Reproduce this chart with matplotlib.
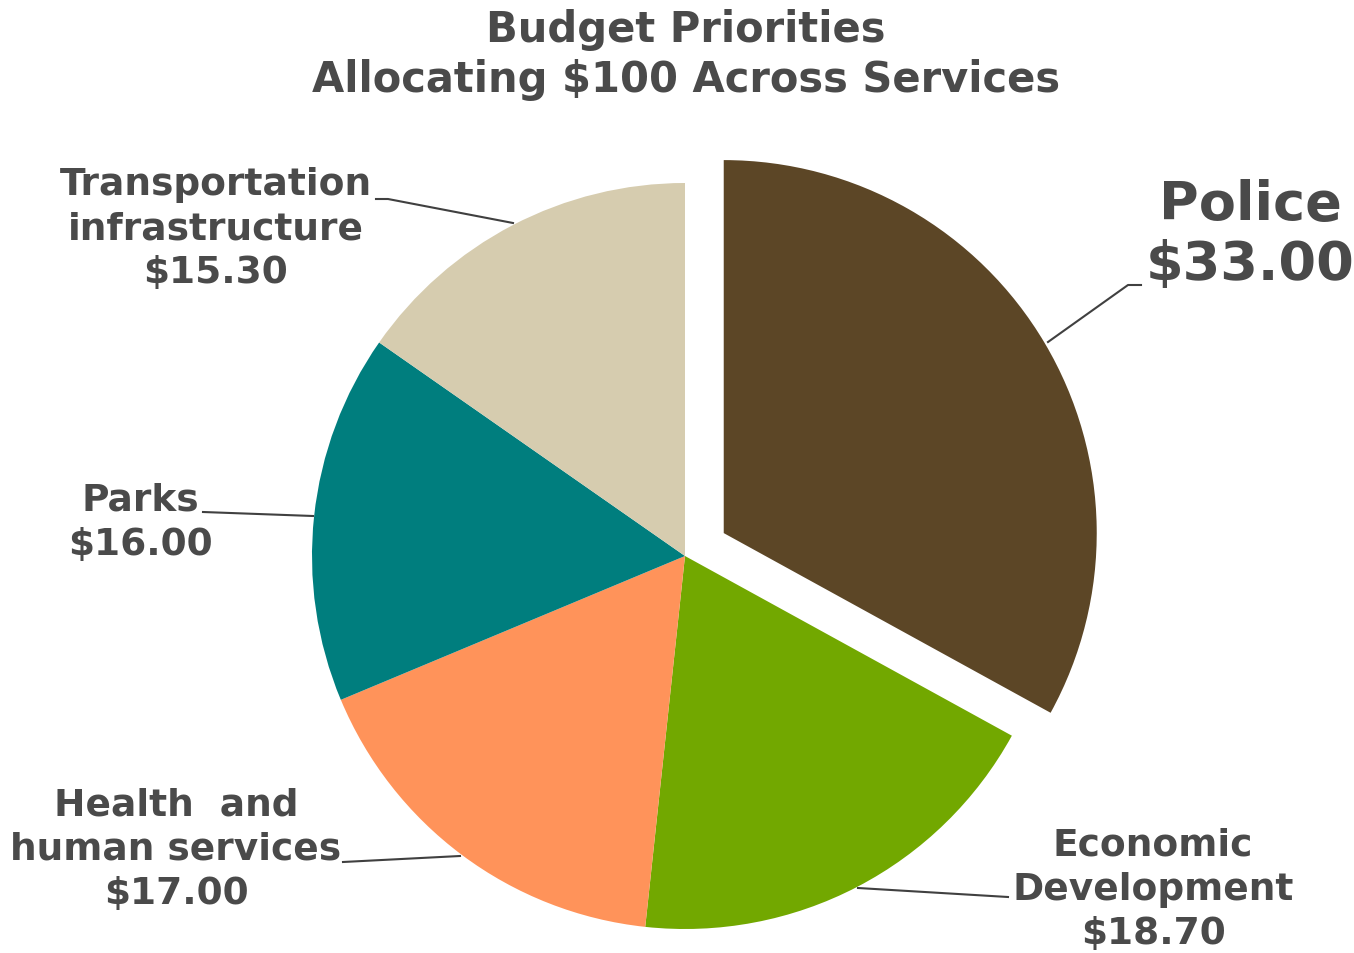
import matplotlib.pyplot as plt

# Dados
categorias = ['Police', 'Economic\nDevelopment', 'Health  and\nhuman services', 'Parks', 'Transportation\ninfrastructure']
valores = [33.00, 18.70, 17.00, 16.00, 15.30]
cores = ['#5C4626', '#72A800', '#FF935A', '#007E7E', '#D6CCAF']

W, H = 1354, 954
cinza = '#4A4A4A'
raio = 373
explode = [45, 0, 0, 0, 0]  # em pixels (unidades de dados)

fig = plt.figure(figsize=(W / 100, H / 100), dpi=100)
ax = fig.add_axes([0, 0, 1, 1])
ax.set_xlim(0, W)
ax.set_ylim(H, 0)
ax.axis('off')

# pizza desenhada num eixo separado (y para cima), mesmo espaço de pixels
ax_pie = fig.add_axes([0, 0, 1, 1])
ax_pie.pie(valores, colors=cores, explode=explode, startangle=90, counterclock=False,
           center=(685, H - 557), radius=raio, frame=True,
           wedgeprops=dict(linewidth=0))
ax_pie.set_xlim(0, W)
ax_pie.set_ylim(0, H)
ax_pie.set_aspect('equal')
ax_pie.axis('off')

# Título
ax.text(686, 30, 'Budget Priorities', ha='center', va='center', fontsize=30,
        fontweight='bold', color=cinza)
ax.text(686, 80, 'Allocating $100 Across Services', ha='center', va='center', fontsize=30,
        fontweight='bold', color=cinza)

# Rótulos (posição do texto, linha guia)
rotulos = [
    (1250, 235, 39, [(1048, 343), (1128, 286), (1141, 286)]),
    (1153, 890, 27, [(858, 889), (1008, 898)]),
    (176, 850, 27, [(343, 863), (460, 857)]),
    (140, 523, 27, [(203, 513), (313, 517)]),
    (216, 229, 27, [(376, 200), (388, 200), (513, 224)]),
]
for cat, v, (x, y, fs, linha) in zip(categorias, valores, rotulos):
    ax.text(x, y, f'{cat}\n${v:.2f}', ha='center', va='center', fontsize=fs,
            fontweight='bold', color=cinza, linespacing=1.3 if fs < 30 else 1.2)
    xs, ys = zip(*linha)
    ax.plot(xs, ys, color='#404040', lw=1.5)

plt.savefig('out.png', dpi=100)
